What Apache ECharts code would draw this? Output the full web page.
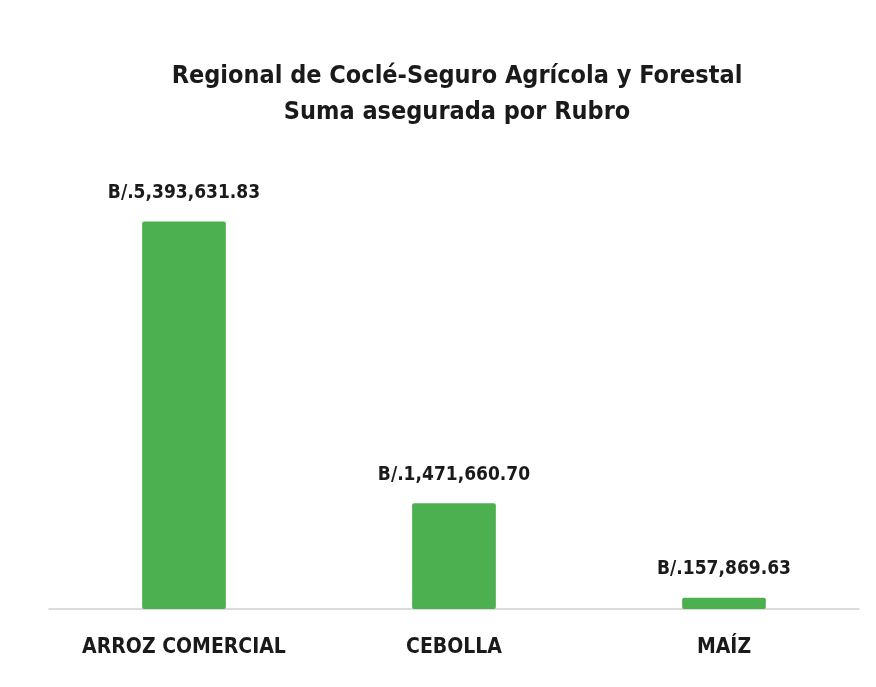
<!DOCTYPE html>
<html>
<head>
<meta charset="utf-8">
<script src="https://cdn.jsdelivr.net/npm/echarts@6/dist/echarts.min.js"></script>
<style>
  html, body { margin: 0; padding: 0; background: #fff; }
  #chart { width: 876px; height: 687px; }
</style>
</head>
<body>
<div id="chart"></div>
<script>
  // datos
  var rubros = ["ARROZ COMERCIAL", "CEBOLLA", "MAÍZ"];
  var sumaAsegurada = [5393631.83, 1471660.70, 157869.63];
  var titulo = "Regional de Coclé-Seguro Agrícola y Forestal\nSuma asegurada por Rubro";

  var fuente = '"Liberation Sans Narrow", "DejaVu Sans Condensed", "Liberation Sans", sans-serif';

  function formatoBalboa(v) {
    var partes = v.toFixed(2).split(".");
    partes[0] = partes[0].replace(/\B(?=(\d{3})+(?!\d))/g, ",");
    return "B/." + partes.join(".");
  }

  var myChart = echarts.init(document.getElementById("chart"));
  var option = {
    animation: false,
    title: {
      text: titulo,
      left: 452,
      top: 53,
      textAlign: "center",
      textStyle: {
        fontFamily: fuente,
        fontWeight: "bold",
        fontSize: 25,
        lineHeight: 36,
        color: "#1a1a1a",
      },
    },
    grid: {
      left: 49,
      right: 17,
      top: 178,
      bottom: 78,
    },
    xAxis: {
      type: "category",
      data: rubros,
      axisLine: { show: true, lineStyle: { color: "#d0d0d0", width: 1.5 } },
      axisTick: { show: false },
      axisLabel: {
        margin: 28,
        fontFamily: fuente,
        fontWeight: "bold",
        fontSize: 21,
        color: "#1a1a1a",
      },
    },
    yAxis: {
      type: "value",
      min: 0,
      max: 6000000,
      show: false,
      splitLine: { show: false },
    },
    series: [
      {
        type: "bar",
        data: sumaAsegurada,
        barWidth: "31%",
        itemStyle: { color: "#4caf50", borderRadius: 2 },
        label: {
          show: true,
          position: "top",
          distance: 19,
          formatter: function (p) { return formatoBalboa(p.value); },
          fontFamily: fuente,
          fontWeight: "bold",
          fontSize: 19,
          color: "#1a1a1a",
        },
      },
    ],
  };
  myChart.setOption(option);
</script>
</body>
</html>
